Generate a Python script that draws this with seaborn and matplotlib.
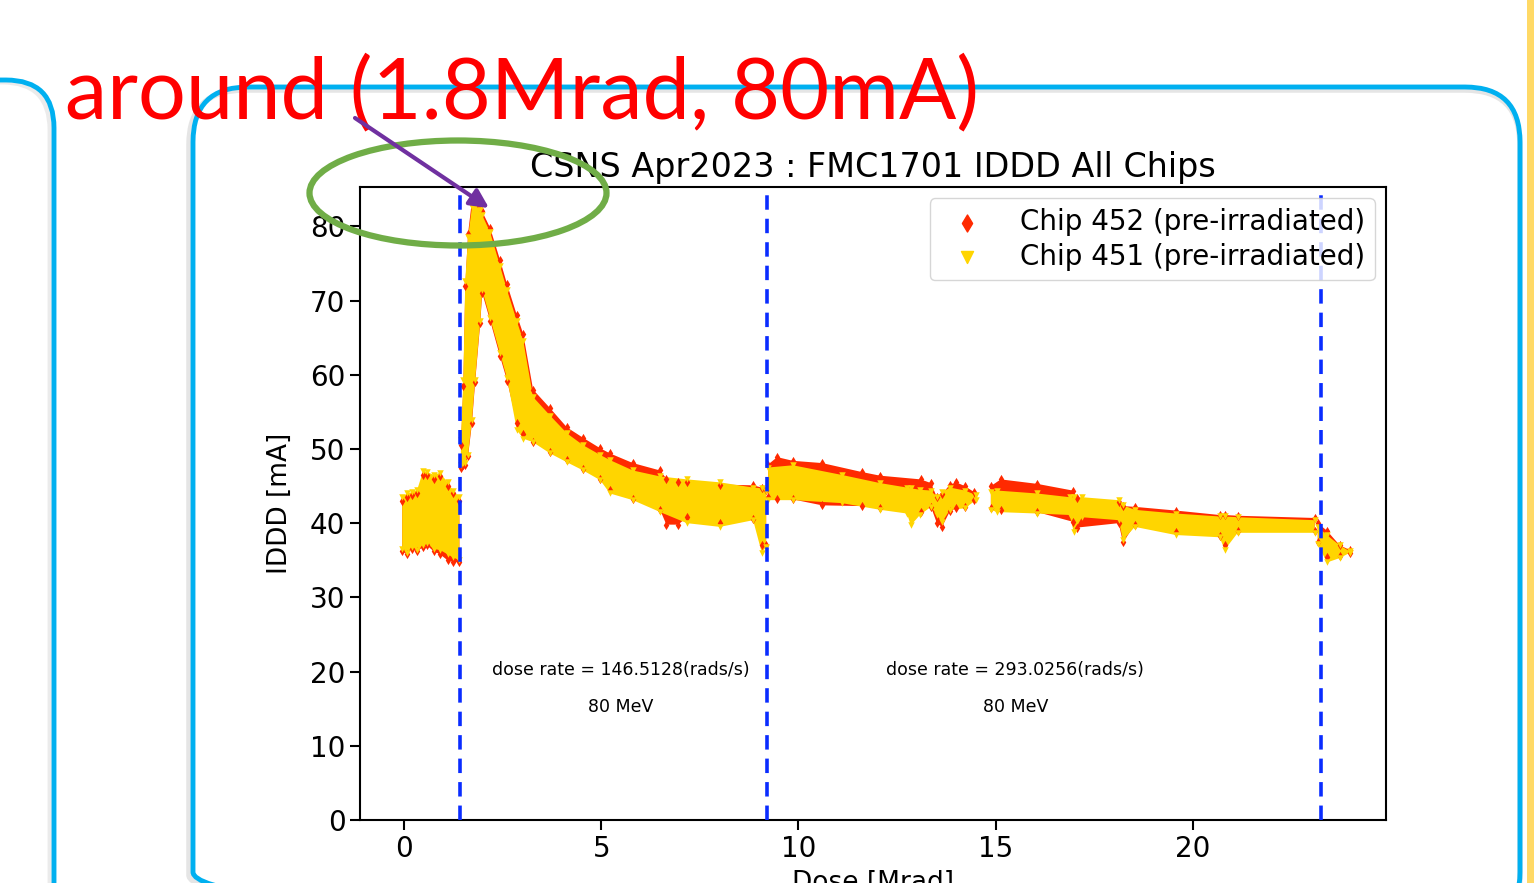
import numpy as np
import pandas as pd
import matplotlib
matplotlib.use("Agg")
import matplotlib.pyplot as plt
from matplotlib.patches import FancyBboxPatch, Ellipse, Rectangle
import seaborn as sns

# band edges (NaN = gap between runs)
nan = np.nan
dose_451 = [-0.05, 0.08, 0.20, 0.33, 0.48, 0.58, 0.75, 0.91, 1.10, 1.24, 1.40, 1.42,
            1.44, 1.50, 1.55, 1.62, 1.72, 1.80, 1.93, 1.98, 2.18, 2.43, 2.61, 2.86, 3.02,
            3.27, 3.70, 4.13, 4.54, 4.97, 5.22, 5.80, 6.49, 7.17, 8.01, 8.85, 9.07, 9.18, 9.21,
            9.23, 9.86, 11.10, 12.07, 12.75, 12.85, 13.08, 13.36, 13.51, 13.64, 13.84, 14.22,
            14.50, 14.70,
            14.88, 15.03, 16.05, 16.88, 16.98, 17.19, 18.12, 18.23, 18.53, 19.57, 20.68,
            20.81, 21.14, 23.09, 23.15,
            23.17, 23.40, 23.73, 23.98]
high_451 = [43.5, 44.0, 44.2, 44.5, 47.0, 46.9, 46.5, 46.8, 45.5, 44.4, 43.5, nan,
            51.2, 59.3, 72.7, 78.5, 82.6, 82.8, 82.2, 81.5, 79.2, 74.7, 71.4, 67.2, 64.6,
            57.0, 54.5, 52.1, 50.5, 49.2, 48.5, 47.1, 46.3, 45.9, 45.5, 44.8, 44.7, 44.4, nan,
            47.5, 47.8, 46.5, 45.4, 44.8, 44.7, 44.5, 44.4, 43.5, 44.2, 44.8, 44.4,
            43.8, nan,
            44.2, 44.4, 44.0, 43.5, 43.5, 43.5, 43.1, 42.4, 41.8, 41.3, 40.9,
            40.9, 40.8, 40.4, nan,
            39.5, 38.4, 37.0, 36.2]
low_451 = [36.5, 36.0, 36.8, 36.4, 37.0, 37.3, 36.5, 36.4, 35.8, 35.4, 35.0, nan,
           47.8, 48.1, 48.1, 49.2, 53.9, 59.3, 67.3, 71.4, 67.6, 62.9, 59.5, 52.5, 51.4,
           50.9, 49.4, 48.2, 47.1, 45.8, 44.0, 43.1, 41.5, 40.0, 39.5, 40.4, 36.0, 36.8, nan,
           43.1, 43.1, 42.7, 41.8, 41.3, 39.7, 41.1, 42.2, 41.1, 40.1, 41.8, 42.0,
           43.1, nan,
           41.8, 41.5, 41.3, 41.1, 38.8, 40.8, 40.4, 37.7, 39.5, 38.4, 38.1,
           36.4, 38.7, 38.7, nan,
           37.2, 34.7, 35.3, 36.0]

dose_452 = [-0.05, 0.08, 0.20, 0.33, 0.48, 0.58, 0.75, 0.91, 1.10, 1.24, 1.40, 1.42,
            1.44, 1.50, 1.55, 1.62, 1.72, 1.80, 1.93, 1.98, 2.18, 2.43, 2.61, 2.86, 3.02,
            3.27, 3.70, 4.13, 4.54, 4.97, 5.22, 5.80, 6.49, 6.65, 6.95, 7.17, 8.01, 8.85,
            9.07, 9.18, 9.21,
            9.23, 9.46, 9.86, 10.60, 11.60, 12.07, 13.10, 13.36, 13.51, 13.64, 13.84, 14.00,
            14.22, 14.45, 14.70,
            14.88, 15.13, 16.05, 16.95, 17.06, 18.12, 18.23, 18.53, 19.57, 20.68, 20.81,
            21.14, 23.09, 23.15,
            23.17, 23.40, 23.73, 23.98]
high_452 = [43.0, 43.5, 43.8, 44.0, 46.5, 46.5, 46.0, 46.3, 45.0, 44.0, 43.0, nan,
            50.5, 58.5, 72.0, 79.0, 83.5, 83.6, 83.0, 82.0, 79.8, 75.5, 72.2, 68.0, 65.5,
            58.0, 55.5, 52.9, 51.5, 50.1, 49.4, 48.1, 47.1, 46.0, 45.6, 45.5, 45.2, 45.1,
            44.8, 44.5, nan,
            47.9, 48.9, 48.4, 48.1, 46.9, 46.4, 45.9, 45.4, 43.5, 43.9, 45.2, 45.5,
            45.0, 44.2, nan,
            45.0, 45.9, 45.3, 44.4, 43.4, 42.8, 42.3, 42.2, 41.7, 41.1, 41.1,
            41.0, 40.7, nan,
            40.0, 39.0, 37.0, 36.4]
low_452 = [36.2, 35.8, 36.5, 36.2, 36.8, 37.0, 36.2, 35.8, 35.0, 34.8, 34.7, nan,
           47.5, 47.8, 47.9, 49.0, 53.5, 59.0, 67.0, 71.0, 67.3, 62.5, 59.2, 53.5, 52.0,
           51.0, 49.6, 48.5, 47.3, 46.0, 44.5, 43.3, 41.8, 39.8, 39.8, 40.8, 40.0, 40.6,
           37.0, 37.0, nan,
           43.5, 43.3, 43.2, 42.4, 42.3, 42.0, 41.5, 42.2, 40.0, 39.5, 41.6, 42.0,
           42.2, 43.1, nan,
           42.0, 41.8, 41.5, 40.2, 39.4, 40.0, 37.4, 39.8, 38.8, 38.3, 37.0,
           38.9, 38.9, nan,
           37.5, 35.5, 35.6, 36.0]

phase_edges = [1.42, 9.2, 23.24]
rate_labels = ["dose rate = 146.5128(rads/s)", "dose rate = 293.0256(rads/s)"]
rate_centres = [5.5, 15.5]
chip_labels = ["Chip 452 (pre-irradiated)", "Chip 451 (pre-irradiated)"]

RED = "#ff2a00"
GOLD = "#ffd500"
BLUE_BOX = "#00b0f0"

sns.set_style("ticks")
plt.rcParams['font.family'] = ['DejaVu Sans']
plt.rcParams['text.color'] = 'black'
plt.rcParams['axes.labelcolor'] = 'black'

W, H = 1539, 883
fig = plt.figure(figsize=(W / 100, H / 100), dpi=100)

# slide background: rounded boxes and side stripe
bg = fig.add_axes([0, 0, 1, 1], zorder=-1)
bg.set_xlim(0, W)
bg.set_ylim(H, 0)
bg.axis("off")
bg.add_patch(FancyBboxPatch((-204, 82), 254, 850, boxstyle="round,pad=0,rounding_size=48",
                            fill=False, ec="0.85", lw=3.5, alpha=0.5))
bg.add_patch(FancyBboxPatch((-200, 80), 254, 850, boxstyle="round,pad=0,rounding_size=48",
                            fill=False, ec=BLUE_BOX, lw=3.5))
bg.add_patch(FancyBboxPatch((189, 90), 1331, 840, boxstyle="round,pad=0,rounding_size=55",
                            fill=False, ec="0.8", lw=4, alpha=0.5))
bg.add_patch(FancyBboxPatch((193, 87), 1327, 840, boxstyle="round,pad=0,rounding_size=55",
                            fill=False, ec=BLUE_BOX, lw=3.5))
bg.add_patch(Rectangle((1527, 0), 7, H, color="#ffd966", lw=0))

# main chart
ax = fig.add_axes([360 / W, 1 - 820 / H, (1386 - 360) / W, (820 - 187) / H])
ax.set_facecolor("none")

series = [
    (dose_452, low_452, high_452, RED, "d", chip_labels[0]),
    (dose_451, low_451, high_451, GOLD, "v", chip_labels[1]),
]
for dose, low, high, col, mk, lab in series:
    d = np.array(dose)
    lo = np.array(low)
    hi = np.array(high)
    ax.fill_between(d, lo, hi, color=col, lw=0, zorder=2)
    df = pd.DataFrame({"dose": np.concatenate([d, d]),
                       "idd": np.concatenate([lo, hi])}).dropna()
    sns.scatterplot(data=df, x="dose", y="idd", ax=ax, color=col, marker=mk,
                    s=22, linewidth=0, zorder=3)
    ax.scatter([], [], color=col, marker=mk, s=75, label=lab)

for xv in phase_edges:
    ax.axvline(xv, color="#0a2cff", ls="--", lw=2.6, dashes=(4, 2.5), zorder=4)

for xc, txt in zip(rate_centres, rate_labels):
    ax.text(xc, 20.2, txt, ha="center", va="center", fontsize=12.5)
    ax.text(xc, 15.2, "80 MeV", ha="center", va="center", fontsize=12.5)

ax.set_xlim(-1.12, 24.9)
ax.set_ylim(0, 85.3)
ax.set_xticks([0, 5, 10, 15, 20])
ax.set_yticks(range(0, 81, 10))
ax.tick_params(direction="out", length=7, width=1.5, labelsize=20, colors="black")
for sp in ax.spines.values():
    sp.set_visible(True)
    sp.set_color("black")
    sp.set_linewidth(1.5)
ax.set_xlabel("Dose [Mrad]", fontsize=19, labelpad=5)
ax.set_ylabel("IDDD [mA]", fontsize=19, labelpad=12)
ax.set_title("CSNS Apr2023 : FMC1701 IDDD All Chips", fontsize=24, pad=7)
leg = ax.legend(loc="upper right", fontsize=20, frameon=True, fancybox=True,
                framealpha=0.8, edgecolor="0.8", handletextpad=0.9,
                borderaxespad=0.4, labelspacing=0.25, borderpad=0.35)

# annotation overlay
ov = fig.add_axes([0, 0, 1, 1], zorder=10)
ov.set_xlim(0, W)
ov.set_ylim(H, 0)
ov.axis("off")
ov.text(65, 118, "around (1.8Mrad, 80mA)", color="red", fontsize=61,
        family="Lato", va="baseline", ha="left")
ov.add_patch(Ellipse((458, 193), 297, 105, fill=False, ec="#70ad47", lw=4.5))
ov.annotate("", xy=(489, 208), xytext=(355, 118),
            arrowprops=dict(arrowstyle="-|>", color="#7030a0", lw=3,
                            mutation_scale=28, shrinkA=0, shrinkB=0))

fig.savefig("out.png", dpi=100)
